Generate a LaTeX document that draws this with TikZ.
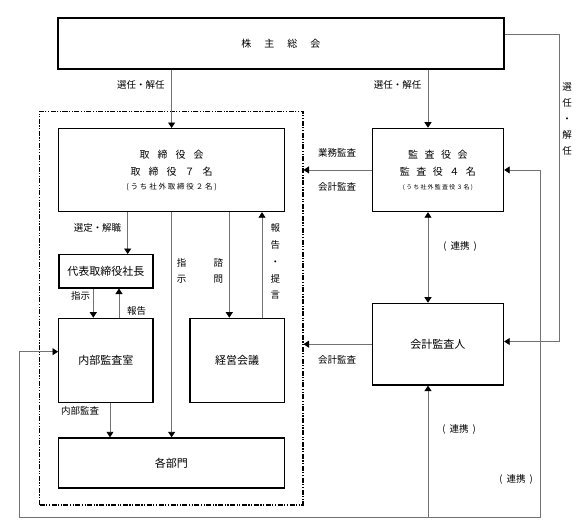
\documentclass[tikz,border=0pt]{standalone}
\usepackage{fontspec}
\setmainfont{Noto Sans CJK JP}
\usetikzlibrary{arrows.meta}
\newcommand\ga{\hspace{8pt}}
\newcommand\gb{\hspace{6.5pt}}
\newcommand\gc{\hspace{1.8pt}}
\newcommand\gd{\hspace{1.2pt}}
\newcommand\gpar{\hspace{4pt}}
\begin{document}
\begin{tikzpicture}[x=1pt,y=-1pt,
  box/.style={draw=black,line width=1.2pt,inner sep=0pt,anchor=north west,align=center,font=\fontsize{11}{13}\selectfont},
  conn/.style={draw=black!55,line width=0.9pt},
  tipx/.style={-{Triangle[width=7pt,length=5.5pt,color=black,fill=black]}},
  dtip/.style={{Triangle[width=7pt,length=5.5pt,color=black,fill=black]}-{Triangle[width=7pt,length=5.5pt,color=black,fill=black]}},
  lbl/.style={inner sep=0pt,font=\fontsize{9.5}{11}\selectfont},
  frm/.style={draw=black,line width=1.2pt,inner sep=0pt,anchor=north west,dash pattern=on 5pt off 1.5pt on 1.2pt off 1.5pt on 1.2pt off 1.5pt}]
\useasboundingbox (0,0) rectangle (579,522);
% boxes
\node[box,minimum width=446pt,minimum height=51pt,font=\fontsize{10}{12}\selectfont] (soukai) at (57.3,17.3) {株\hspace{13pt}主\hspace{13pt}総\hspace{13pt}会};
\node[frm,minimum width=263.3pt,minimum height=393.8pt] (frame) at (39,110.5) {};
\node[box,minimum width=226pt,minimum height=83pt,font=\fontsize{10}{17}\selectfont] (board) at (58,128)
  {取\ga 締\ga 役\ga 会\\取\ga 締\ga 役\ga ７\ga 名\\[-3pt]{\fontsize{7.5}{9}\selectfont(\gc う\gc ち\gc 社\gc 外\gc 取\gc 締\gc 役\gc ２\gc 名\gc )}};
\node[box,minimum width=131.3pt,minimum height=83.3pt,font=\fontsize{10}{17}\selectfont] (audit) at (371.7,127.7)
  {監\gb 査\gb 役\gb 会\\監\gb 査\gb 役\gb ４\gb 名\\[-3pt]{\fontsize{6}{8}\selectfont(\gd う\gd ち\gd 社\gd 外\gd 監\gd 査\gd 役\gd ３\gd 名\gd )}};
\node[box,minimum width=94pt,minimum height=33.3pt] (rep) at (58.3,254) {代表取締役社長};
\node[box,minimum width=94.3pt,minimum height=84pt] (naibu) at (58,317.7) {内部監査室};
\node[box,minimum width=94.4pt,minimum height=84pt] (keiei) at (189.3,317.7) {経営会議};
\node[box,minimum width=225.7pt,minimum height=50pt] (kakubu) at (58,437.3) {各部門};
\node[box,minimum width=131.3pt,minimum height=81.7pt] (kaikei) at (371.7,302.7) {会計監査人};
% helper coordinates
\coordinate (xa) at (428,0);
\coordinate (r1) at (559.3,34.3);
\coordinate (r2) at (559.3,341.5);
\coordinate (b1) at (19,517.7);
\coordinate (b2) at (540.7,517.7);
\coordinate (lk) at (19,351.7);
\coordinate (xs) at (127.7,0);
\coordinate (xq) at (229.3,0);
\coordinate (xh) at (262,0);
\coordinate (xi) at (93.3,0);
\coordinate (xr) at (119,0);
\coordinate (xn) at (110,0);
% connectors
\draw[conn,tipx] (soukai.south -| board.north) -- (board.north);
\draw[conn,tipx] (soukai.south -| xa) -- (audit.north -| xa);
\draw[conn,tipx] (soukai.east |- r1) -- (r1) -- (r2) -- (kaikei.east |- r2);
\draw[conn,tipx] (b2) -- (b2 |- audit.east) -- (audit.east);
\draw[conn,tipx] (b2) -- (b1) -- (lk) -- (naibu.west |- lk);
\draw[conn,tipx] (xa |- b1) -- (kaikei.south -| xa);
\draw[conn,dtip] (audit.south -| xa) -- (kaikei.north -| xa);
\draw[conn,tipx] (audit.west) -- (frame.east |- audit.west);
\draw[conn,tipx] (kaikei.west) -- (frame.east |- kaikei.west);
\draw[conn,tipx] (board.south -| xs) -- (rep.north -| xs);
\draw[conn,tipx] (board.south) -- (kakubu.north -| board.south);
\draw[conn,tipx] (board.south -| xq) -- (keiei.north -| xq);
\draw[conn,tipx] (keiei.north -| xh) -- (board.south -| xh);
\draw[conn,tipx] (rep.south -| xi) -- (naibu.north -| xi);
\draw[conn,tipx] (naibu.north -| xr) -- (rep.south -| xr);
\draw[conn,tipx] (naibu.south -| xn) -- (kakubu.north -| xn);
% labels
\node[lbl] (l1) at (140.8,85) {選任・解任};
\node[lbl] (l2) at (397.5,85) {選任・解任};
\node[lbl,align=center,font=\fontsize{9.5}{16}\selectfont] (l3) at (567,118.7) {選\\任\\・\\解\\任};
\node[lbl] (l4) at (97.5,228) {選定・解職};
\node[lbl,align=center,font=\fontsize{9.5}{16.6}\selectfont] (l5) at (181.7,271) {指\\示};
\node[lbl,align=center,font=\fontsize{9.5}{16.6}\selectfont] (l6) at (218.3,271) {諮\\問};
\node[lbl,align=center,font=\fontsize{9.5}{16.7}\selectfont] (l7) at (275.3,261.7) {報\\告\\・\\提\\言};
\node[lbl] (l8) at (80.5,296) {指示};
\node[lbl] (l9) at (136.7,310.7) {報告};
\node[lbl] (l10) at (80,411) {内部監査};
\node[lbl] (l11) at (337,152.7) {業務監査};
\node[lbl] (l12) at (337,186.7) {会計監査};
\node[lbl] (l13) at (337,360) {会計監査};
\node[lbl] (l14) at (460,246.7) {(\gpar 連携\gpar )};
\node[lbl] (l15) at (459,429.3) {(\gpar 連携\gpar )};
\node[lbl] (l16) at (516,479.3) {(\gpar 連携\gpar )};
\end{tikzpicture}
\end{document}
